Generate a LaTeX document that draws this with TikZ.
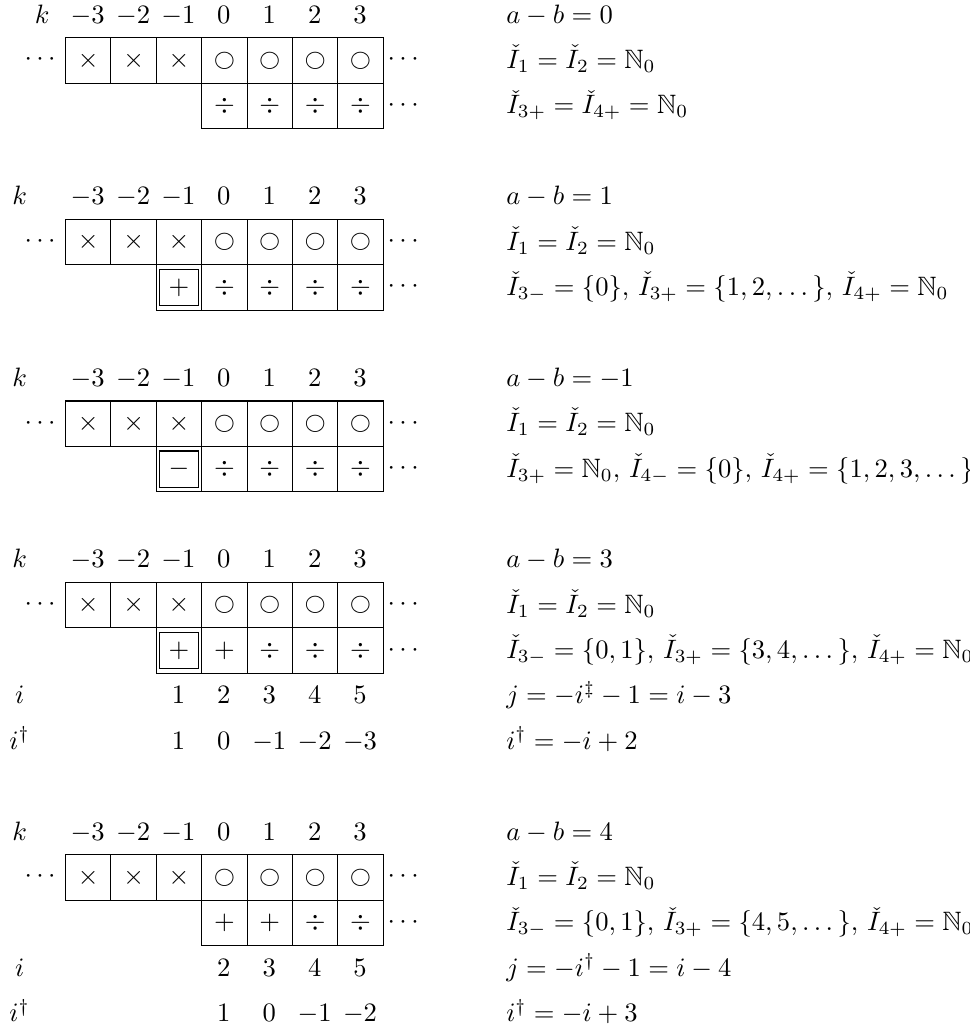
\documentclass[tikz,border=0pt]{standalone}
\usepackage{amsmath,amssymb}
\usetikzlibrary{positioning}

\tikzset{
  cell/.style={draw,minimum size=0.6cm,inner sep=0pt,anchor=north west},
  inbox/.style={draw,minimum width=14.8pt,minimum height=13.6pt,inner sep=0pt},
  lab/.style={anchor=base,yshift=-3.2pt,inner sep=0pt},
  txt/.style={anchor=base west,yshift=-3.2pt,inner sep=0pt},
}
% header k, the row x/o and the dots of one block
\newcommand{\toprow}[2]{%
  \node[lab] (k#1) at (#2,0.5) {$k$};
  \foreach \j in {0,...,6} {
    \pgfmathtruncatemacro\kk{\j-3}
    \node[lab] (h#1\j) at (\j+0.5,0.5) {$\kk$};
  }
  \foreach \j/\s in {0/\times,1/\times,2/\times,3/\scriptstyle\bigcirc,4/\scriptstyle\bigcirc,5/\scriptstyle\bigcirc,6/\scriptstyle\bigcirc}
    \node[cell] (a#1\j) at (\j,0) {$\s$};
  \node (ld#1) at (-0.5,-0.5) {$\cdots$};
  \node (ra#1) at (7.5,-0.5) {$\cdots$};
  \node (rb#1) at (7.5,-1.5) {$\cdots$};
}

\begin{document}
\begin{tikzpicture}[x=0.6cm,y=0.6cm]
\useasboundingbox (-1.432,0.822) rectangle (19.93,-21.87);

% a-b=0
\toprow{1}{-0.5}
\foreach \j in {3,...,6} \node[cell] (b1\j) at (\j,-1) {$\div$};
\node[txt] (t1a) at (9.71,0.5) {$a-b=0$};
\node[txt] (t1b) at (9.71,-0.5) {$\check I_1=\check I_2=\mathbb{N}_0$};
\node[txt] (t1c) at (9.71,-1.5) {$\check I_{3+}=\check I_{4+}=\mathbb{N}_0$};

% a-b=1
\begin{scope}[shift={(0,-4)}]
\toprow{2}{-1}
\node[cell] (b22) at (2,-1) {$+$};
\node[inbox] at (b22.center) {};
\foreach \j in {3,...,6} \node[cell] (b2\j) at (\j,-1) {$\div$};
\node[txt] (t2a) at (9.71,0.5) {$a-b=1$};
\node[txt] (t2b) at (9.71,-0.5) {$\check I_1=\check I_2=\mathbb{N}_0$};
\node[txt] (t2c) at (9.71,-1.5) {$\check I_{3-}=\{0\},\,\check I_{3+}=\{1,2,\dots\},\,\check I_{4+}=\mathbb{N}_0$};
\end{scope}

% a-b=-1
\begin{scope}[shift={(0,-8)}]
\toprow{3}{-1}
\node[cell] (b32) at (2,-1) {$-$};
\node[inbox] at (b32.center) {};
\foreach \j in {3,...,6} \node[cell] (b3\j) at (\j,-1) {$\div$};
\node[txt] (t3a) at (9.71,0.5) {$a-b=-1$};
\node[txt] (t3b) at (9.71,-0.5) {$\check I_1=\check I_2=\mathbb{N}_0$};
\node[txt] (t3c) at (9.71,-1.5) {$\check I_{3+}=\mathbb{N}_0,\,\check I_{4-}=\{0\},\,\check I_{4+}=\{1,2,3,\dots\}$};
\end{scope}

% a-b=3
\begin{scope}[shift={(0,-12)}]
\toprow{4}{-1}
\node[cell] (b42) at (2,-1) {$+$};
\node[inbox] at (b42.center) {};
\foreach \j/\s in {3/+,4/\div,5/\div,6/\div} \node[cell] (b4\j) at (\j,-1) {$\s$};
\node[lab] (i4) at (-1,-2.5) {$i$};
\node[lab] (d4) at (-1,-3.5) {$i^\dagger$};
\foreach \j/\u/\v in {2/1/1,3/2/0,4/3/-1,5/4/-2,6/5/-3} {
  \node[lab] (i4\j) at (\j+0.5,-2.5) {$\u$};
  \node[lab] (d4\j) at (\j+0.5,-3.5) {$\v$};
}
\node[txt] (t4a) at (9.71,0.5) {$a-b=3$};
\node[txt] (t4b) at (9.71,-0.5) {$\check I_1=\check I_2=\mathbb{N}_0$};
\node[txt] (t4c) at (9.71,-1.5) {$\check I_{3-}=\{0,1\},\,\check I_{3+}=\{3,4,\dots\},\,\check I_{4+}=\mathbb{N}_0$};
\node[txt] (t4d) at (9.71,-2.5) {$j=-i^\ddagger-1=i-3$};
\node[txt] (t4e) at (9.71,-3.5) {$i^\dagger=-i+2$};
\end{scope}

% a-b=4
\begin{scope}[shift={(0,-18)}]
\toprow{5}{-1}
\foreach \j/\s in {3/+,4/+,5/\div,6/\div} \node[cell] (b5\j) at (\j,-1) {$\s$};
\node[lab] (i5) at (-1,-2.5) {$i$};
\node[lab] (d5) at (-1,-3.5) {$i^\dagger$};
\foreach \j/\u/\v in {3/2/1,4/3/0,5/4/-1,6/5/-2} {
  \node[lab] (i5\j) at (\j+0.5,-2.5) {$\u$};
  \node[lab] (d5\j) at (\j+0.5,-3.5) {$\v$};
}
\node[txt] (t5a) at (9.71,0.5) {$a-b=4$};
\node[txt] (t5b) at (9.71,-0.5) {$\check I_1=\check I_2=\mathbb{N}_0$};
\node[txt] (t5c) at (9.71,-1.5) {$\check I_{3-}=\{0,1\},\,\check I_{3+}=\{4,5,\dots\},\,\check I_{4+}=\mathbb{N}_0$};
\node[txt] (t5d) at (9.71,-2.5) {$j=-i^\dagger-1=i-4$};
\node[txt] (t5e) at (9.71,-3.5) {$i^\dagger=-i+3$};
\end{scope}
\end{tikzpicture}
\end{document}
